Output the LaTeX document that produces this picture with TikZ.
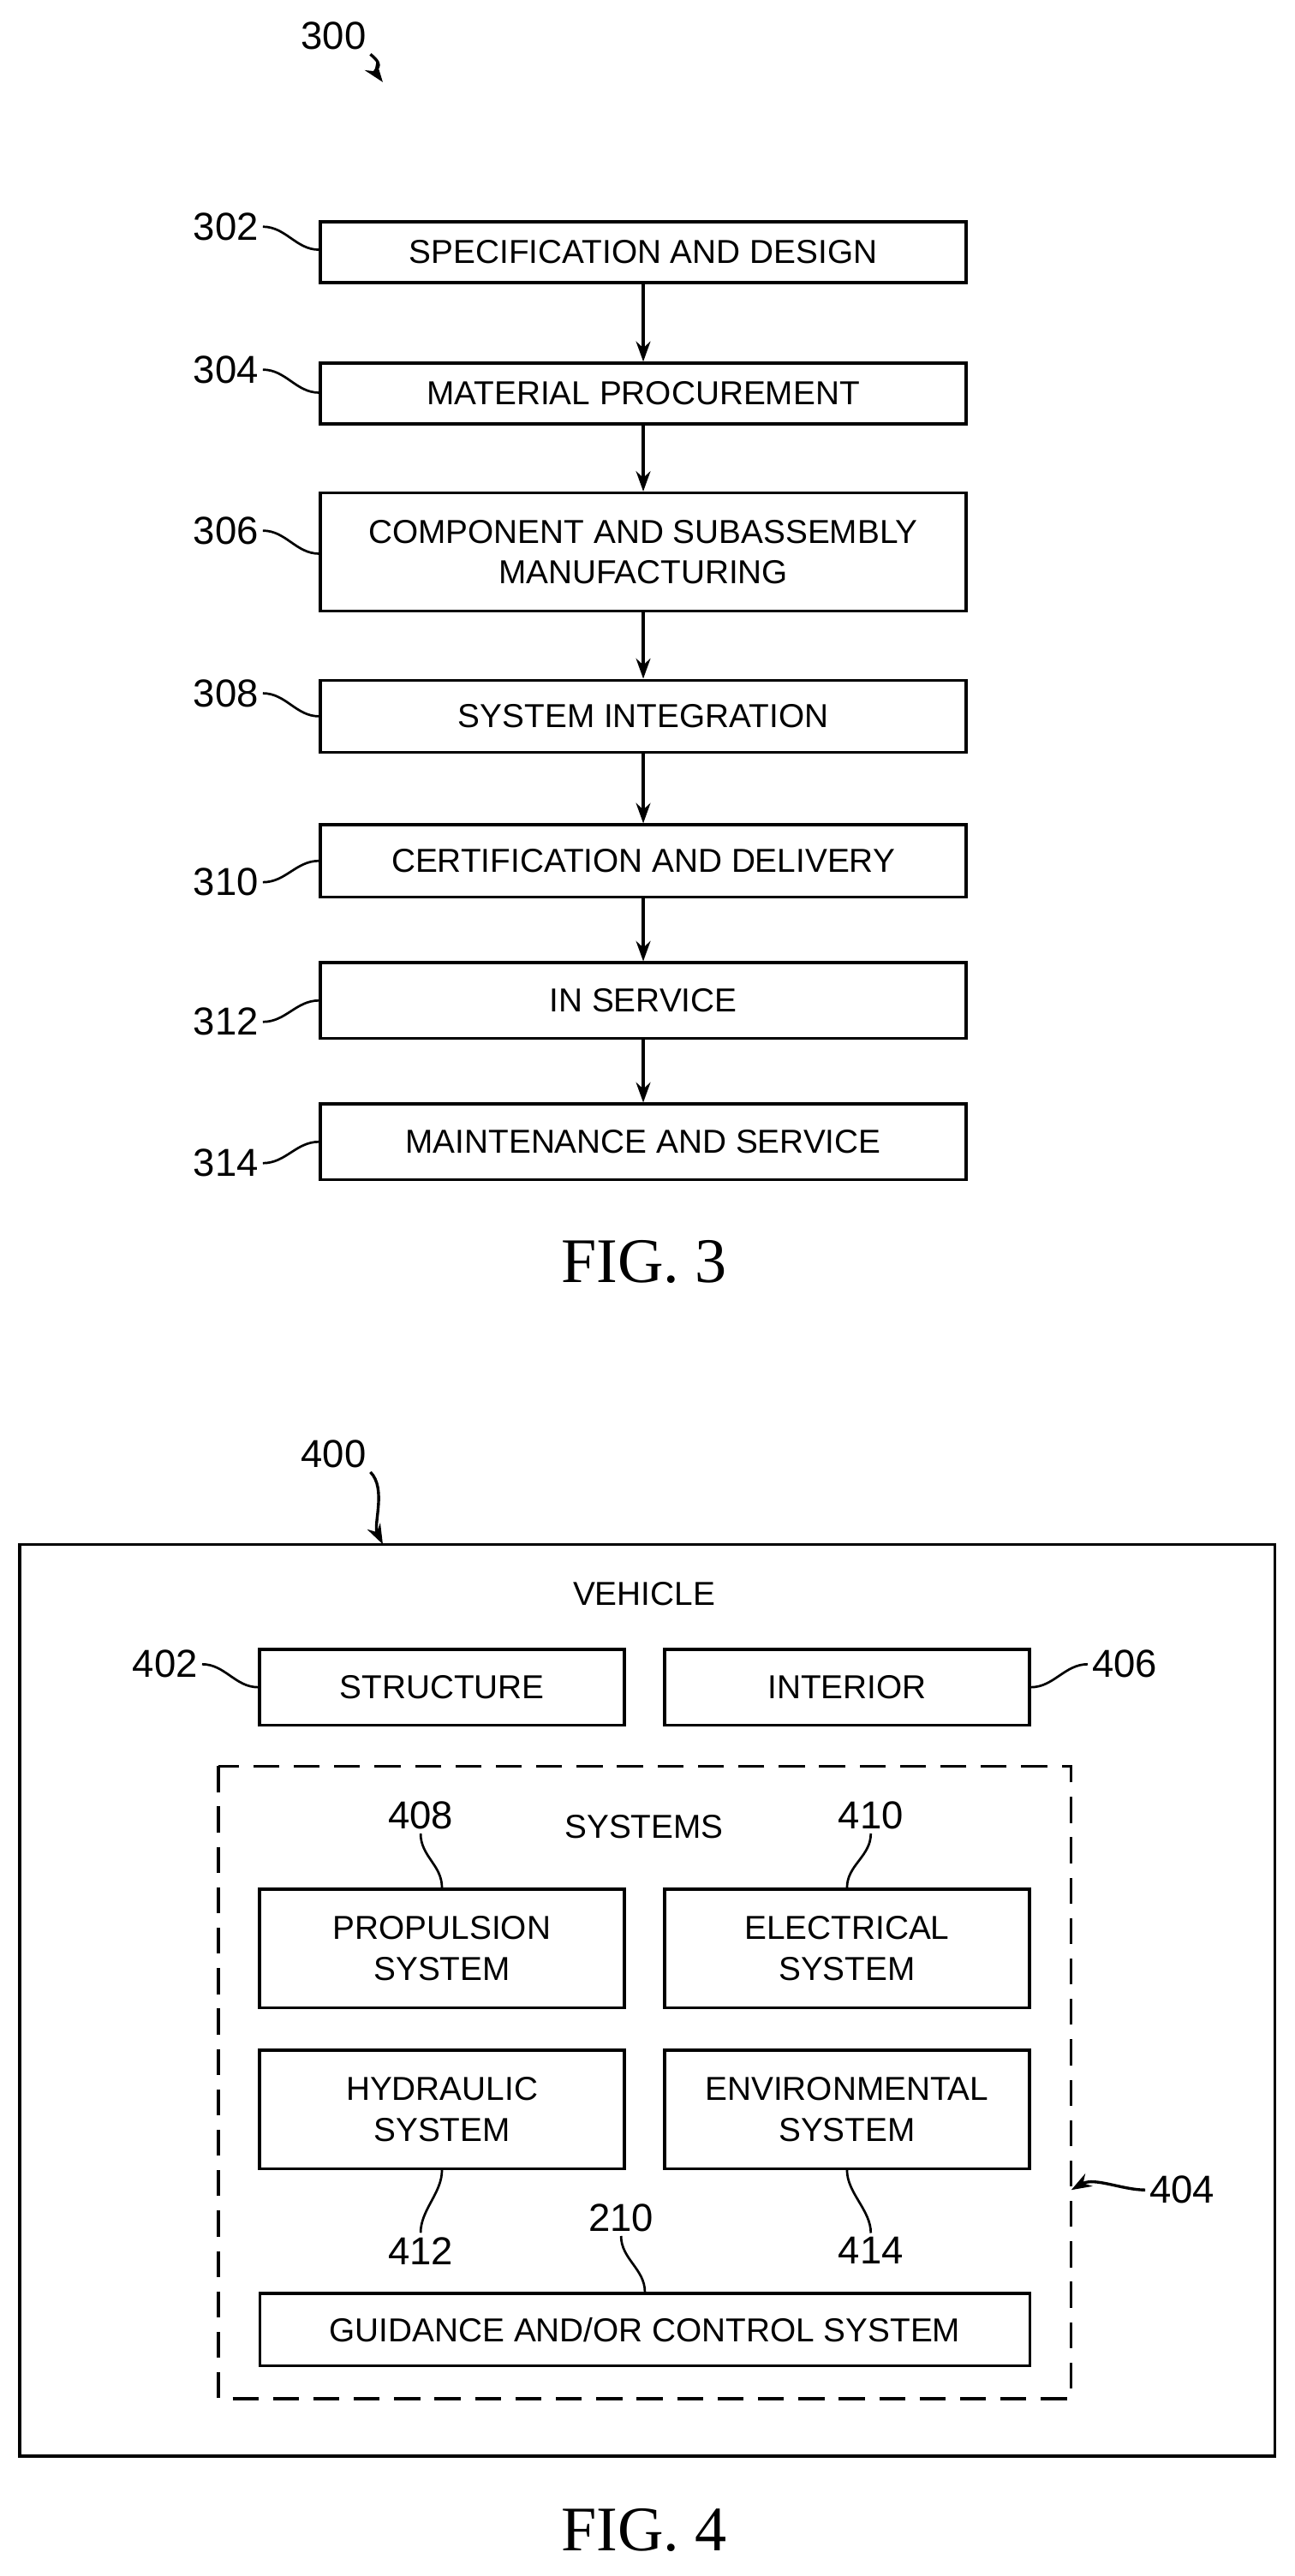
\documentclass[tikz,border=0pt]{standalone}
\usepackage{fontspec}
\setmainfont{Liberation Serif}
\setsansfont{Liberation Sans}
\usetikzlibrary{arrows.meta}
\begin{document}
\begin{tikzpicture}[x=0.02cm,y=-0.02cm,line width=1pt,
    box/.style={draw,rectangle,align=center,inner sep=0pt,font=\sffamily\fontsize{11.5}{14}\selectfont},
    num/.style={inner sep=1pt,font=\sffamily\fontsize{13.5}{15}\selectfont},
    lead/.style={line width=0.8pt},
    flow/.style={-{Stealth[length=7pt,width=5pt]}},
    fig/.style={font=\rmfamily\fontsize{22}{24}\selectfont}]
    \useasboundingbox (0,0) rectangle (788,1568);
    % FIG. 3
    \node[num] (l300) at (203,22) {300};
    \coordinate (t300) at (233,50);
    \draw[flow] (l300.south east) .. controls +(10,8) and +(-6,-8) .. (t300);
    \node[box,minimum width=7.86cm,minimum height=0.74cm] (s302) at (391.5,153.5) {SPECIFICATION AND DESIGN};
    \node[box,minimum width=7.86cm,minimum height=0.74cm] (s304) at (391.5,239.5) {MATERIAL PROCUREMENT};
    \node[box,minimum width=7.86cm,minimum height=1.44cm] (s306) at (391.5,336) {COMPONENT AND SUBASSEMBLY\\MANUFACTURING};
    \node[box,minimum width=7.86cm,minimum height=0.88cm] (s308) at (391.5,436) {SYSTEM INTEGRATION};
    \node[box,minimum width=7.86cm,minimum height=0.88cm] (s310) at (391.5,524) {CERTIFICATION AND DELIVERY};
    \node[box,minimum width=7.86cm,minimum height=0.92cm] (s312) at (391.5,609) {IN SERVICE};
    \node[box,minimum width=7.86cm,minimum height=0.92cm] (s314) at (391.5,695) {MAINTENANCE AND SERVICE};
    \foreach \a/\b in {302/304,304/306,306/308,308/310,310/312,312/314}
        \draw[flow] (s\a) -- (s\b);
    \foreach \n/\y/\ty in {302/138/152,304/225/239,306/323/337,308/422/436,310/537/524,312/622/609,314/708/695} {
        \node[num,anchor=east] (l\n) at (160,\y) {\n};
        \draw[lead] (l\n.east) .. controls +(14,0) and +(-14,0) .. (s\n.west |- 0,\ty);
    }
    \node[fig] (f3) at (392,768) {FIG. 3};
    % FIG. 4
    \node[num] (l400) at (203,885) {400};
    \coordinate (t400) at (233,940);
    \draw[flow] (l400.south east) .. controls +(10,10) and +(-6,-12) .. (t400);
    \draw (12,940) rectangle (776,1495);
    \node[box,draw=none] (veh) at (392,970) {VEHICLE};
    \node[box,minimum width=4.44cm,minimum height=0.92cm] (s402) at (269,1027) {STRUCTURE};
    \node[box,minimum width=4.44cm,minimum height=0.92cm] (s406) at (515.5,1027) {INTERIOR};
    \node[num,anchor=east] (l402) at (123,1013) {402};
    \node[num,anchor=west] (l406) at (662,1013) {406};
    \draw[lead] (l402.east) .. controls +(14,0) and +(-14,0) .. (s402.west);
    \draw[lead] (l406.west) .. controls +(-14,0) and +(14,0) .. (s406.east);
    \draw[dashed,dash pattern=on 9pt off 5pt] (133,1075) rectangle (652,1460);
    \coordinate (d404) at (652,1333);
    \node[num,anchor=west] (l404) at (697,1333) {404};
    \draw[flow] (l404.west) .. controls +(-14,0) and +(14,-8) .. (d404);
    \node[box,draw=none] (sys) at (392,1112) {SYSTEMS};
    \node[box,minimum width=4.44cm,minimum height=1.44cm] (s408) at (269,1186) {PROPULSION\\SYSTEM};
    \node[box,minimum width=4.44cm,minimum height=1.44cm] (s410) at (515.5,1186) {ELECTRICAL\\SYSTEM};
    \node[box,minimum width=4.44cm,minimum height=1.44cm] (s412) at (269,1284) {HYDRAULIC\\SYSTEM};
    \node[box,minimum width=4.44cm,minimum height=1.44cm] (s414) at (515.5,1284) {ENVIRONMENTAL\\SYSTEM};
    \node[box,minimum width=9.38cm,minimum height=0.88cm] (s210) at (392.5,1418) {GUIDANCE AND/OR CONTROL SYSTEM};
    \node[num] (l408) at (256,1105) {408};
    \node[num] (l410) at (530,1105) {410};
    \node[num] (l412) at (256,1370) {412};
    \node[num] (l414) at (530,1370) {414};
    \node[num] (l210) at (378,1350) {210};
    \draw[lead] (l408.south) .. controls +(0,14) and +(0,-14) .. (s408.north);
    \draw[lead] (l410.south) .. controls +(0,14) and +(0,-14) .. (s410.north);
    \draw[lead] (l412.north) .. controls +(0,-14) and +(0,14) .. (s412.south);
    \draw[lead] (l414.north) .. controls +(0,-14) and +(0,14) .. (s414.south);
    \draw[lead] (l210.south) .. controls +(0,14) and +(0,-14) .. (s210.north);
    \node[fig] (f4) at (392,1540) {FIG. 4};
\end{tikzpicture}
\end{document}
